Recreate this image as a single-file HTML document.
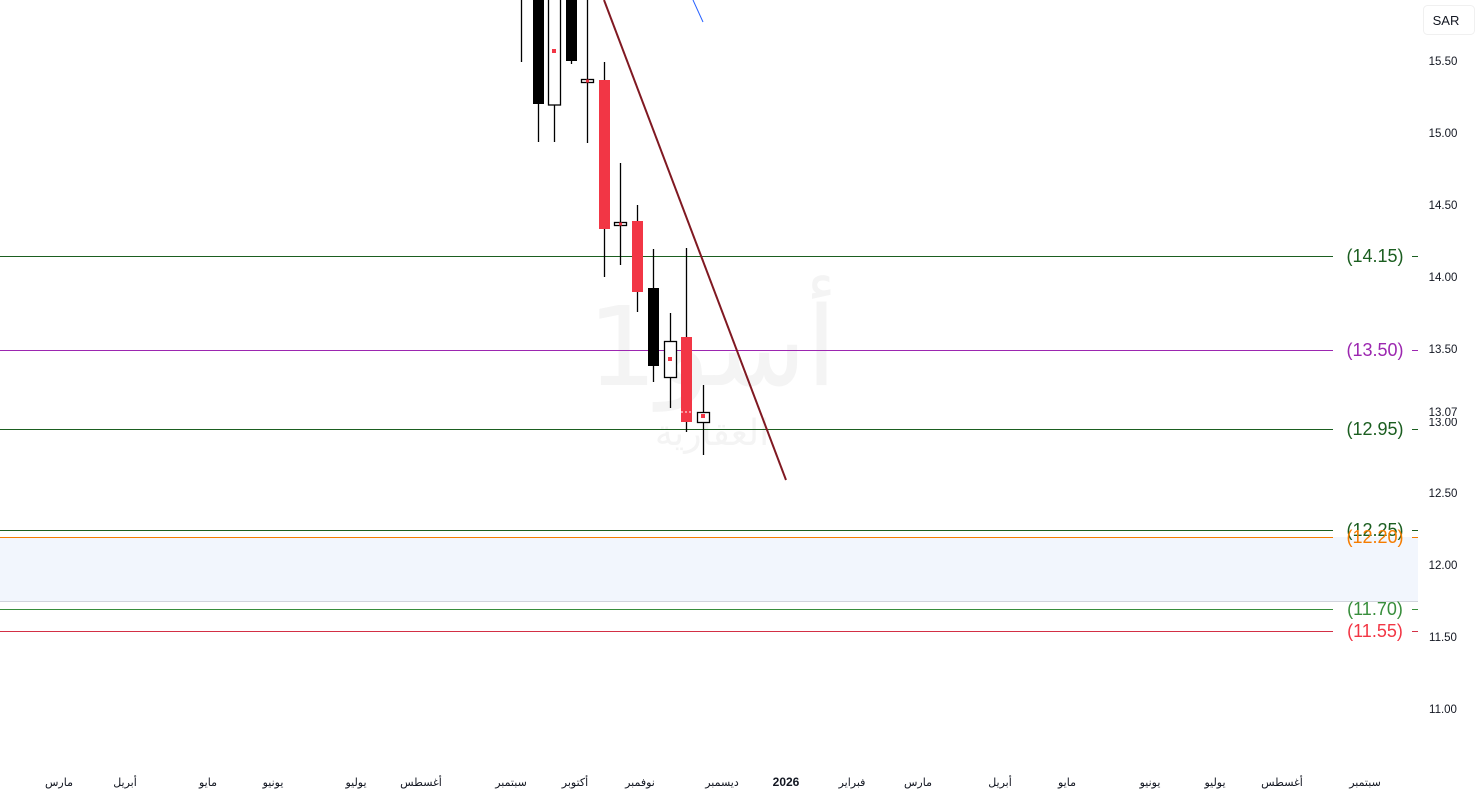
<!DOCTYPE html>
<html><head><meta charset="utf-8">
<style>
html,body{margin:0;padding:0;background:#fff;}
svg{display:block;font-family:"Liberation Sans","DejaVu Sans",sans-serif;}
</style></head><body>
<svg width="1480" height="800" viewBox="0 0 1480 800" xmlns="http://www.w3.org/2000/svg">
<rect width="1480" height="800" fill="#fff"/>
<rect x="0" y="537" width="1418" height="64" fill="#f2f6fd"/>
<line x1="0" y1="601.5" x2="1418" y2="601.5" stroke="#d1d4dc" stroke-width="1"/>
<text x="712" y="385" font-size="110" fill="#f4f4f4" text-anchor="middle" font-family="'DejaVu Sans',sans-serif">أسو1</text>
<text x="712" y="445" font-size="36" fill="#f4f4f4" text-anchor="middle" font-family="'DejaVu Sans',sans-serif">العقارية</text>
<g stroke-width="1">
<line x1="0" y1="256.5" x2="1333" y2="256.5" stroke="#1b5e20"/>
<line x1="0" y1="350.5" x2="1333" y2="350.5" stroke="#9c27b0"/>
<line x1="0" y1="429.5" x2="1333" y2="429.5" stroke="#1b5e20"/>
<line x1="0" y1="530.5" x2="1333" y2="530.5" stroke="#1b5e20"/>
<line x1="0" y1="537.5" x2="1333" y2="537.5" stroke="#f57c00"/>
<line x1="0" y1="609.5" x2="1333" y2="609.5" stroke="#388e3c"/>
<line x1="0" y1="631.5" x2="1333" y2="631.5" stroke="#d32f45"/>
<line x1="1412" y1="256.5" x2="1418" y2="256.5" stroke="#1b5e20"/>
<line x1="1412" y1="350.5" x2="1418" y2="350.5" stroke="#9c27b0"/>
<line x1="1412" y1="429.5" x2="1418" y2="429.5" stroke="#1b5e20"/>
<line x1="1412" y1="530.5" x2="1418" y2="530.5" stroke="#1b5e20"/>
<line x1="1412" y1="537.5" x2="1418" y2="537.5" stroke="#f57c00"/>
<line x1="1412" y1="609.5" x2="1418" y2="609.5" stroke="#388e3c"/>
<line x1="1412" y1="631.5" x2="1418" y2="631.5" stroke="#d32f45"/>
</g>
<g font-size="18" text-anchor="middle">
<text x="1375" y="262" fill="#1b5e20">(14.15)</text>
<text x="1375" y="356" fill="#9c27b0">(13.50)</text>
<text x="1375" y="435" fill="#1b5e20">(12.95)</text>
<text x="1375" y="536" fill="#1b5e20">(12.25)</text>
<text x="1375" y="543" fill="#f57c00">(12.20)</text>
<text x="1375" y="615" fill="#388e3c">(11.70)</text>
<text x="1375" y="637" fill="#f23645">(11.55)</text>
</g>
<g stroke="#000" stroke-width="1.3">
<line x1="521.5" y1="0" x2="521.5" y2="62"/>
<line x1="538.5" y1="0" x2="538.5" y2="142"/>
<line x1="554.5" y1="0" x2="554.5" y2="142"/>
<line x1="571.5" y1="0" x2="571.5" y2="64"/>
<line x1="587.5" y1="0" x2="587.5" y2="143"/>
<line x1="604.5" y1="62" x2="604.5" y2="277"/>
<line x1="620.5" y1="163" x2="620.5" y2="265"/>
<line x1="637.5" y1="205" x2="637.5" y2="312"/>
<line x1="653.5" y1="249" x2="653.5" y2="382"/>
<line x1="670.5" y1="313" x2="670.5" y2="408"/>
<line x1="686.5" y1="248" x2="686.5" y2="432"/>
<line x1="703.5" y1="385" x2="703.5" y2="455"/>
</g>
<rect x="533" y="0" width="11" height="104" fill="#000"/>
<rect x="548.5" y="-1" width="12" height="106" fill="#fff" stroke="#000" stroke-width="1.3"/>
<rect x="552" y="49" width="4" height="4" fill="#f23645"/>
<rect x="566" y="0" width="11" height="61" fill="#000"/>
<rect x="581.5" y="79.5" width="12" height="3" fill="#fff" stroke="#000" stroke-width="1.3"/>
<rect x="586" y="79.5" width="3" height="3" fill="#f23645"/>
<rect x="599" y="80" width="11" height="149" fill="#f23645"/>
<rect x="614.5" y="222.5" width="12" height="3" fill="#fff" stroke="#000" stroke-width="1.3"/>
<rect x="619" y="222.5" width="3" height="3" fill="#f23645"/>
<rect x="632" y="221" width="11" height="71" fill="#f23645"/>
<rect x="648" y="288" width="11" height="78" fill="#000"/>
<rect x="664.5" y="341.5" width="12" height="36" fill="#fff" stroke="#000" stroke-width="1.3"/>
<rect x="668" y="357" width="4" height="4" fill="#f23645"/>
<rect x="681" y="337" width="11" height="85" fill="#f23645"/>
<line x1="681" y1="412" x2="692" y2="412" stroke="#fff" stroke-width="1" stroke-dasharray="2,2"/>
<rect x="697.5" y="412.5" width="12" height="10" fill="#fff" stroke="#000" stroke-width="1.3"/>
<rect x="701" y="414" width="4" height="4" fill="#f23645"/>
<line x1="604" y1="0" x2="786" y2="480" stroke="#801922" stroke-width="2"/>
<line x1="693" y1="0" x2="703" y2="22" stroke="#2962ff" stroke-width="1"/>
<rect x="1423.5" y="5.5" width="51" height="29" rx="4" fill="#fff" stroke="#f0f0f0"/>
<text x="1446" y="25" font-size="13" fill="#131722" text-anchor="middle">SAR</text>
<g font-size="11.5" fill="#131722" text-anchor="middle">
<text x="1443" y="65">15.50</text>
<text x="1443" y="137">15.00</text>
<text x="1443" y="209">14.50</text>
<text x="1443" y="281">14.00</text>
<text x="1443" y="353">13.50</text>
<text x="1443" y="426">13.00</text>
<rect x="1425" y="404" width="40" height="14" fill="#fff"/>
<text x="1443" y="416">13.07</text>
<text x="1443" y="497">12.50</text>
<text x="1443" y="569">12.00</text>
<text x="1443" y="641">11.50</text>
<text x="1443" y="713">11.00</text>
</g>
<g font-size="11" fill="#131722" text-anchor="middle" font-family="'DejaVu Sans',sans-serif">
<text x="59" y="786">مارس</text>
<text x="125" y="786">أبريل</text>
<text x="208" y="786">مايو</text>
<text x="273" y="786">يونيو</text>
<text x="356" y="786">يوليو</text>
<text x="421" y="786">أغسطس</text>
<text x="511" y="786">سبتمبر</text>
<text x="575" y="786">أكتوبر</text>
<text x="640" y="786">نوفمبر</text>
<text x="722" y="786">ديسمبر</text>
<text x="786" y="786" font-weight="bold" font-family="'Liberation Sans',sans-serif" font-size="12">2026</text>
<text x="852" y="786">فبراير</text>
<text x="918" y="786">مارس</text>
<text x="1000" y="786">أبريل</text>
<text x="1067" y="786">مايو</text>
<text x="1150" y="786">يونيو</text>
<text x="1215" y="786">يوليو</text>
<text x="1282" y="786">أغسطس</text>
<text x="1365" y="786">سبتمبر</text>
</g>
</svg>
</body></html>
